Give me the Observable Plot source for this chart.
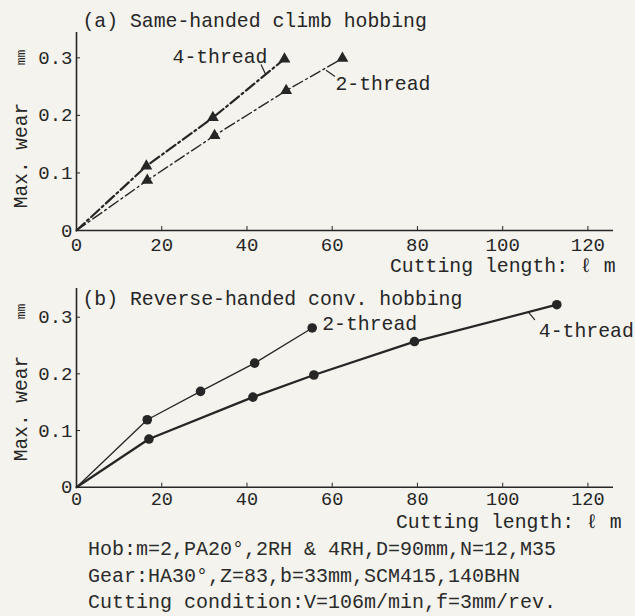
<!DOCTYPE html>
<html>
<head>
<meta charset="utf-8">
<script src="https://cdn.jsdelivr.net/npm/d3@7"></script>
<script src="https://cdn.jsdelivr.net/npm/@observablehq/plot@0.6"></script>
<style>
  html, body { margin: 0; padding: 0; background: #f4f3ee; }
  body { position: relative; width: 635px; height: 616px; overflow: hidden;
         font-family: "Liberation Mono", "Courier New", "Nimbus Mono PS", "Nimbus Mono L", "FreeMono", "Cousine", "DejaVu Sans Mono", monospace;
         color: #2b2b2b; }
  #a { position: absolute; left: 0; top: 0; }
  #b { position: absolute; left: 0; top: 272px; }
  #caption { position: absolute; left: 88px; top: 537px; font-size: 20px; line-height: 26.5px; white-space: pre; }
  svg { display: block; overflow: visible; }
</style>
</head>
<body>
<div id="a"></div>
<div id="b"></div>
<div id="caption"></div>
<script>
// ---- data ----
const xTicks = [0, 20, 40, 60, 80, 100, 120];
const yTicks = [0, 0.1, 0.2, 0.3];

// (a) Same-handed climb hobbing
const aLen4 = [0, 16.4, 32.0, 48.8];
const aWear4 = [0, 0.112, 0.196, 0.298];
const aLen2 = [0, 16.6, 32.4, 49.2, 62.4];
const aWear2 = [0, 0.087, 0.165, 0.243, 0.299];

// (b) Reverse-handed conv. hobbing
const bLen2 = [0, 16.6, 29.1, 41.8, 55.3];
const bWear2 = [0, 0.119, 0.169, 0.219, 0.281];
const bLen4 = [0, 17.0, 41.4, 55.7, 79.3, 112.7];
const bWear4 = [0, 0.085, 0.159, 0.198, 0.257, 0.322];

const titleA = "(a) Same-handed climb hobbing";
const titleB = "(b) Reverse-handed conv. hobbing";
const xLabel = "Cutting length: \u2113 m";
const yLabel = "Max. wear";
const yUnit = "mm";
const captionLines = [
  "Hob:m=2,PA20\u00b0,2RH & 4RH,D=90mm,N=12,M35",
  "Gear:HA30\u00b0,Z=83,b=33mm,SCM415,140BHN",
  "Cutting condition:V=106m/min,f=3mm/rev."
];

const FONT = getComputedStyle(document.body).fontFamily;
const toRows = (xs, ys) => xs.map((x, i) => ({x, y: ys[i]}));
const ink = "#262626";
const fmt = d => d === 0 ? "0" : d.toFixed(1);
const leaderShape = { draw(ctx, l) { ctx.moveTo(0, 0); ctx.lineTo(0, -l); } };
const FS = 19.8;

function axes(opts) {
  return [
    Plot.ruleY([0], {stroke: ink, strokeWidth: 1.6}),
    Plot.ruleX([0], {stroke: ink, strokeWidth: 1.6}),
    Plot.axisX({ticks: xTicks, tickSize: -4, tickPadding: opts.xtPad, tickFormat: d => String(d), stroke: ink, fill: ink, label: null, fontSize: opts.xtFs}),
    Plot.axisY({ticks: yTicks, tickSize: -4, tickPadding: 8, tickFormat: fmt, stroke: ink, fill: ink, label: null, fontSize: 19}),
    Plot.text([xLabel], {frameAnchor: "bottom-right", dx: opts.xlDx, dy: opts.xlDy, textAnchor: "end", lineAnchor: "middle", fill: ink, fontSize: FS}),
    Plot.text([yLabel], {frameAnchor: "top-left", dx: -56, dy: opts.ylDy, rotate: -90, textAnchor: "middle", lineAnchor: "middle", fill: ink, fontSize: 19.5}),
    Plot.text([yUnit], {frameAnchor: "top-left", dx: -56, dy: opts.unitDy, rotate: -90, textAnchor: "middle", lineAnchor: "middle", fill: ink, fontSize: 13}),
    Plot.text([opts.title], {frameAnchor: "top-left", dx: 6, dy: opts.titleDy, textAnchor: "start", lineAnchor: "middle", fill: ink, fontSize: FS})
  ];
}

const common = {
  width: 635,
  marginLeft: 76,
  marginRight: 22,
  style: {fontFamily: FONT, fontSize: "19px", background: "transparent", color: ink, overflow: "visible"}
};

// ---- chart (a) ----
const a4 = toRows(aLen4, aWear4), a2 = toRows(aLen2, aWear2);
const chartA = Plot.plot({
  ...common,
  height: 280,
  marginTop: 32,
  marginBottom: 50,
  x: {domain: [0, 126]},
  y: {domain: [0, 0.344]},
  marks: [
    ...axes({title: titleA, titleDy: -12, xlDx: 2, xlDy: 35, ylDy: 123, unitDy: 25, xtPad: 10.5, xtFs: 19}),
    Plot.line(a4, {x: "x", y: "y", stroke: ink, strokeWidth: 2.2, strokeDasharray: "11,3.5,2,3.5"}),
    Plot.line(a2, {x: "x", y: "y", stroke: ink, strokeWidth: 1.4, strokeDasharray: "11,3.5,2,3.5"}),
    Plot.dot(a4.filter(d => d.x > 0), {x: "x", y: "y", symbol: "triangle", r: 4.4, fill: ink}),
    Plot.dot(a2.filter(d => d.x > 0), {x: "x", y: "y", symbol: "triangle", r: 4.4, fill: ink}),
    Plot.text([a4[a4.length - 1]], {x: "x", y: "y", text: () => "4-thread", dx: -17, dy: -2, textAnchor: "end", lineAnchor: "middle", fill: ink, fontSize: FS}),
    Plot.text([a2[a2.length - 1]], {x: "x", y: "y", text: () => "2-thread", dx: -7, dy: 25, textAnchor: "start", lineAnchor: "middle", fill: ink, fontSize: FS}),
    Plot.vector([a4[a4.length - 1]], {x: "x", y: "y", dx: -19, dy: 15, length: 10, rotate: -25, anchor: "start", shape: leaderShape, stroke: ink, strokeWidth: 1.2}),
    Plot.vector([a2[a2.length - 1]], {x: "x", y: "y", dx: -16, dy: 12, length: 10, rotate: 125, anchor: "start", shape: leaderShape, stroke: ink, strokeWidth: 1.2})
  ]
});
document.getElementById("a").append(chartA);

// ---- chart (b) ----
const b4 = toRows(bLen4, bWear4), b2 = toRows(bLen2, bWear2);
const chartB = Plot.plot({
  ...common,
  height: 253,
  marginTop: 16,
  marginBottom: 38.3,
  x: {domain: [0, 126]},
  y: {domain: [0, 0.3506]},
  marks: [
    ...axes({title: titleB, titleDy: 10, xlDx: 8, xlDy: 34, ylDy: 120, unitDy: 23, xtPad: 8.5, xtFs: 18.5}),
    Plot.line(b4, {x: "x", y: "y", stroke: ink, strokeWidth: 2.3}),
    Plot.line(b2, {x: "x", y: "y", stroke: ink, strokeWidth: 1.3}),
    Plot.dot(b4.filter(d => d.x > 0), {x: "x", y: "y", r: 4.8, fill: ink}),
    Plot.dot(b2.filter(d => d.x > 0), {x: "x", y: "y", r: 4.8, fill: ink}),
    Plot.text([b2[b2.length - 1]], {x: "x", y: "y", text: () => "2-thread", dx: 10, dy: -4, textAnchor: "start", lineAnchor: "middle", fill: ink, fontSize: FS}),
    Plot.text([b4[b4.length - 1]], {x: "x", y: "y", text: () => "4-thread", dx: -18, dy: 26, textAnchor: "start", lineAnchor: "middle", fill: ink, fontSize: FS}),
    Plot.vector([b4[b4.length - 1]], {x: "x", y: "y", dx: -28, dy: 8, length: 9, rotate: 140, anchor: "start", shape: leaderShape, stroke: ink, strokeWidth: 1.2})
  ]
});
document.getElementById("b").append(chartB);

document.getElementById("caption").textContent = captionLines.join("\n");
</script>
</body>
</html>
